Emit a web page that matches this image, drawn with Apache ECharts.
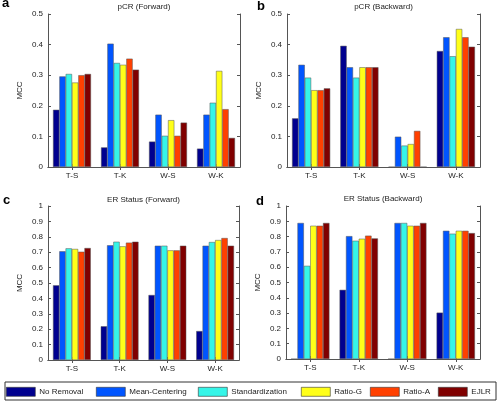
<!DOCTYPE html>
<html>
<head>
<meta charset="utf-8">
<script src="https://cdn.jsdelivr.net/npm/echarts@6/dist/echarts.min.js"></script>
<style>
html,body{margin:0;padding:0;background:#fff;}
#chart{width:499px;height:402px;}
</style>
</head>
<body>
<div id="chart"></div>
<script>
// ---- data ----
const categories = ['T-S', 'T-K', 'W-S', 'W-K'];
const methods = ['No Removal', 'Mean-Centering', 'Standardization', 'Ratio-G', 'Ratio-A', 'EJLR'];
const colors = ['#00008F', '#0055FF', '#35F5E8', '#FFFF19', '#FF4000', '#800000'];

// rows follow `methods`, columns follow `categories`
const pcrForward = [
  [0.187, 0.064, 0.083, 0.060],
  [0.296, 0.403, 0.171, 0.171],
  [0.304, 0.340, 0.102, 0.210],
  [0.276, 0.334, 0.153, 0.314],
  [0.300, 0.354, 0.102, 0.189],
  [0.304, 0.318, 0.145, 0.095]
];
const pcrBackward = [
  [0.159, 0.396, 0, 0.379],
  [0.334, 0.326, 0.099, 0.424],
  [0.292, 0.292, 0.070, 0.362],
  [0.251, 0.326, 0.075, 0.451],
  [0.251, 0.326, 0.118, 0.424],
  [0.257, 0.326, 0, 0.393]
];
const erForward = [
  [0.485, 0.219, 0.422, 0.188],
  [0.706, 0.745, 0.742, 0.742],
  [0.725, 0.768, 0.742, 0.766],
  [0.721, 0.738, 0.712, 0.779],
  [0.703, 0.762, 0.712, 0.792],
  [0.727, 0.768, 0.742, 0.742]
];
const erBackward = [
  [0, 0.452, 0, 0.303],
  [0.889, 0.803, 0.889, 0.838],
  [0.609, 0.773, 0.889, 0.819],
  [0.871, 0.786, 0.871, 0.838],
  [0.871, 0.806, 0.871, 0.838],
  [0.889, 0.788, 0.889, 0.823]
];
const panelTitles = ['pCR (Forward)', 'pCR (Backward)', 'ER Status (Forward)', 'ER Status (Backward)'];
const panelLetters = ['a', 'b', 'c', 'd'];
const panelMax = [0.5, 0.5, 1, 1];
const yAxisName = 'MCC';

// ---- layout ----
const FONT = 'Liberation Sans, Arial, Helvetica, sans-serif';
const grids = [
  {left: 48, top: 14, width: 192, height: 153},
  {left: 287, top: 14, width: 193, height: 153},
  {left: 48, top: 206, width: 191, height: 154},
  {left: 286, top: 206, width: 194, height: 153}
];
const titleY = [7, 7, 200, 199];
const panelData = [pcrForward, pcrBackward, erForward, erBackward];
const lineColor = '#555';

const option = {
  animation: false,
  backgroundColor: '#fff',
  textStyle: {fontFamily: FONT},
  grid: grids.map(g => Object.assign({containLabel: false, outerBoundsMode: 'none'}, g)),
  xAxis: [],
  yAxis: [],
  series: [],
  legend: [],
  graphic: []
};

grids.forEach((g, p) => {
  option.xAxis.push({
    type: 'category', gridIndex: p, data: categories, position: 'bottom',
    axisLine: {show: true, lineStyle: {color: lineColor, width: 1}},
    axisTick: {show: true, inside: true, alignWithLabel: true, length: 3, lineStyle: {color: lineColor}},
    axisLabel: {color: '#222', fontSize: 8, margin: 5, fontFamily: FONT},
    splitLine: {show: false}
  });
  option.xAxis.push({
    type: 'category', gridIndex: p, data: categories, position: 'top',
    axisLine: {show: true, lineStyle: {color: lineColor, width: 1}},
    axisTick: {show: true, inside: true, alignWithLabel: true, length: 3, lineStyle: {color: lineColor}},
    axisLabel: {show: false},
    splitLine: {show: false}
  });
  option.yAxis.push({
    type: 'value', gridIndex: p, min: 0, max: panelMax[p], interval: 0.1, position: 'left',
    name: yAxisName, nameLocation: 'middle', nameGap: 24,
    nameTextStyle: {color: '#222', fontSize: 8, fontFamily: FONT},
    axisLine: {show: true, lineStyle: {color: lineColor, width: 1}},
    axisTick: {show: true, inside: true, length: 3, lineStyle: {color: lineColor}},
    axisLabel: {color: '#222', fontSize: 8, margin: 5, fontFamily: FONT,
      formatter: v => String(Math.round(v * 10) / 10)},
    splitLine: {show: false}
  });
  option.yAxis.push({
    type: 'value', gridIndex: p, min: 0, max: panelMax[p], interval: 0.1, position: 'right',
    axisLine: {show: true, lineStyle: {color: lineColor, width: 1}},
    axisTick: {show: true, inside: true, length: 3, lineStyle: {color: lineColor}},
    axisLabel: {show: false},
    splitLine: {show: false}
  });

  methods.forEach((m, i) => {
    option.series.push({
      type: 'bar', name: m,
      xAxisIndex: p * 2, yAxisIndex: p * 2,
      data: panelData[p][i],
      barGap: '0%', barCategoryGap: '21%',
      itemStyle: {color: colors[i], borderColor: '#555', borderWidth: 0.5},
      emphasis: {disabled: true}
    });
  });

  option.graphic.push({
    type: 'text', x: g.left + g.width / 2, y: titleY[p],
    style: {text: panelTitles[p], font: '8px ' + FONT, fill: '#222',
      textAlign: 'center', textVerticalAlign: 'middle'}
  });
});

const letterPos = [[2, -3], [257, 0], [3, 194], [256, 195]];
panelLetters.forEach((l, p) => {
  option.graphic.push({
    type: 'text', x: letterPos[p][0], y: letterPos[p][1],
    style: {text: l, font: 'bold 13px ' + FONT, fill: '#000'}
  });
});

option.graphic.push({
  type: 'rect', x: 5, y: 382,
  shape: {x: 0, y: 0, width: 491, height: 18},
  style: {fill: '#fff', stroke: '#333', lineWidth: 1},
  z: -1
});

const legendX = [6, 96, 198, 301, 370, 438];
methods.forEach((m, i) => {
  option.legend.push({
    data: [m], left: legendX[i], top: 387, padding: 0,
    itemWidth: 29, itemHeight: 9, itemGap: 0,
    icon: 'rect',
    selectedMode: false,
    textStyle: {fontSize: 8, color: '#222', fontFamily: FONT, padding: [0, 0, 0, -1]},
    itemStyle: {borderColor: '#333', borderWidth: 0.6}
  });
});

const chart = echarts.init(document.getElementById('chart'), null, {renderer: 'canvas'});
chart.setOption(option);
</script>
</body>
</html>
